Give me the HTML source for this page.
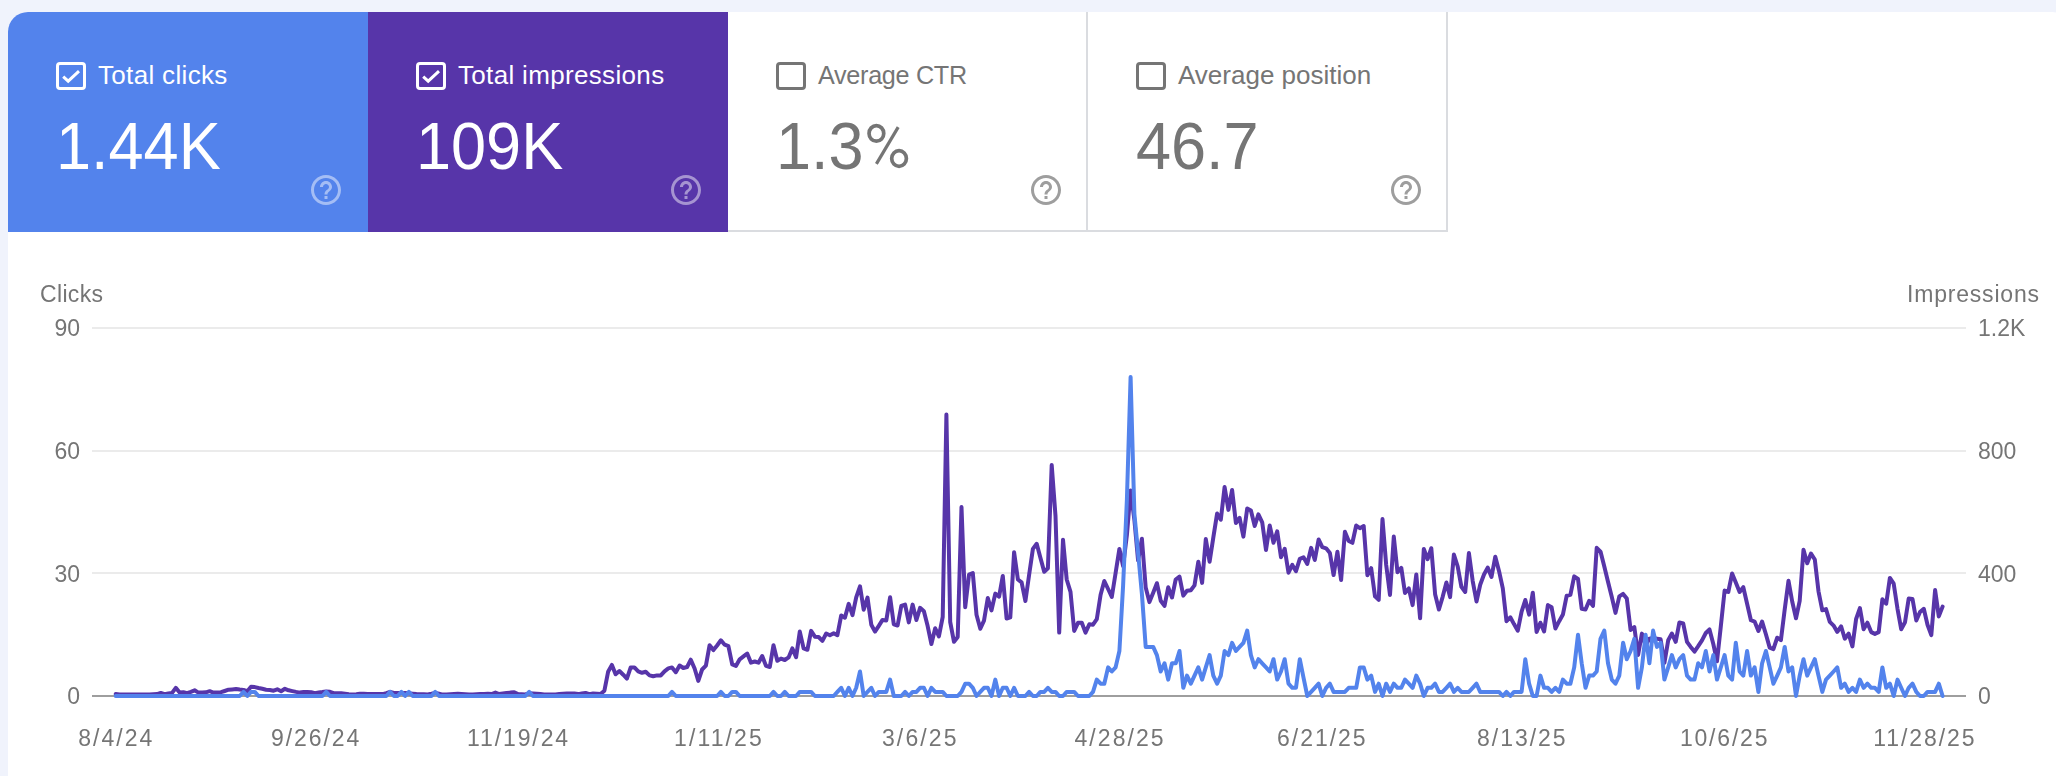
<!DOCTYPE html>
<html>
<head>
<meta charset="utf-8">
<title>Performance</title>
<style>
html,body{margin:0;padding:0;}
body{width:2056px;height:776px;overflow:hidden;background:#f0f3fc;font-family:"Liberation Sans",sans-serif;position:relative;}
#card{position:absolute;left:8px;top:12px;width:2064px;height:800px;background:#fff;border-radius:20px 20px 0 0;overflow:hidden;}
.tile{position:absolute;top:0;height:220px;width:360px;box-sizing:border-box;}
.t1{left:0;background:#5383ec;color:#fff;}
.t2{left:360px;background:#5735a9;color:#fff;}
.t3{left:720px;background:#fff;color:#757575;border-right:2px solid #dadce0;border-bottom:2px solid #dadce0;}
.t4{left:1080px;background:#fff;color:#757575;border-right:2px solid #dadce0;border-bottom:2px solid #dadce0;}
.cb{position:absolute;left:48px;top:50px;width:30px;height:28px;box-sizing:border-box;border:3px solid #fff;border-radius:4px;}
.t3 .cb,.t4 .cb{border-color:#757575;}
.cb svg{position:absolute;left:0;top:0;}
.lbl{position:absolute;left:90px;top:46px;font-size:26px;line-height:34px;letter-spacing:0.33px;white-space:nowrap;transform-origin:0 50%;}
.val{position:absolute;left:48px;top:96px;font-size:66px;line-height:76px;transform:scaleX(0.955);white-space:nowrap;transform-origin:0 50%;}
.help{position:absolute;left:300px;top:160px;width:36px;height:36px;}
#chart{position:absolute;left:0;top:0;will-change:transform;}
.ax{font-size:23px;fill:#757575;font-family:"Liberation Sans",sans-serif;}
</style>
</head>
<body>
<div id="card">
  <div class="tile t1">
    <div class="cb"><svg width="24" height="22" viewBox="0 0 24 22"><path d="M4.2 11.6 L9.2 16.1 L20 6.2" fill="none" stroke="#fff" stroke-width="3"/></svg></div>
    <div class="lbl">Total clicks</div>
    <div class="val">1.44K</div>
    <svg class="help" viewBox="0 0 24 24"><path d="M11 18h2v-2h-2v2zm1-16C6.48 2 2 6.48 2 12s4.48 10 10 10 10-4.48 10-10S17.52 2 12 2zm0 18c-4.41 0-8-3.59-8-8s3.59-8 8-8 8 3.59 8 8-3.59 8-8 8zm0-14c-2.21 0-4 1.79-4 4h2c0-1.1.9-2 2-2s2 .9 2 2c0 2-3 1.75-3 5h2c0-2.25 3-2.5 3-5 0-2.21-1.79-4-4-4z" fill="#fff" fill-opacity="0.47"/></svg>
  </div>
  <div class="tile t2">
    <div class="cb"><svg width="24" height="22" viewBox="0 0 24 22"><path d="M4.2 11.6 L9.2 16.1 L20 6.2" fill="none" stroke="#fff" stroke-width="3"/></svg></div>
    <div class="lbl">Total impressions</div>
    <div class="val">109K</div>
    <svg class="help" viewBox="0 0 24 24"><path d="M11 18h2v-2h-2v2zm1-16C6.48 2 2 6.48 2 12s4.48 10 10 10 10-4.48 10-10S17.52 2 12 2zm0 18c-4.41 0-8-3.59-8-8s3.59-8 8-8 8 3.59 8 8-3.59 8-8 8zm0-14c-2.21 0-4 1.79-4 4h2c0-1.1.9-2 2-2s2 .9 2 2c0 2-3 1.75-3 5h2c0-2.25 3-2.5 3-5 0-2.21-1.79-4-4-4z" fill="#fff" fill-opacity="0.47"/></svg>
  </div>
  <div class="tile t3">
    <div class="cb"></div>
    <div class="lbl" style="letter-spacing:-0.3px;font-size:25.2px">Average CTR</div>
    <div class="val">1.3</div>
    <svg style="position:absolute;left:138px;top:110px" width="44" height="48" viewBox="0 0 44 48"><g fill="none" stroke="#757575"><ellipse cx="10.4" cy="11.4" rx="7.35" ry="7.8" stroke-width="3.7"/><ellipse cx="33.05" cy="36.5" rx="7.35" ry="7.8" stroke-width="3.7"/><line x1="32.2" y1="5.1" x2="10.4" y2="41.9" stroke-width="3.2"/></g></svg>
    <svg class="help" viewBox="0 0 24 24"><path d="M11 18h2v-2h-2v2zm1-16C6.48 2 2 6.48 2 12s4.48 10 10 10 10-4.48 10-10S17.52 2 12 2zm0 18c-4.41 0-8-3.59-8-8s3.59-8 8-8 8 3.59 8 8-3.59 8-8 8zm0-14c-2.21 0-4 1.79-4 4h2c0-1.1.9-2 2-2s2 .9 2 2c0 2-3 1.75-3 5h2c0-2.25 3-2.5 3-5 0-2.21-1.79-4-4-4z" fill="#9e9e9e"/></svg>
  </div>
  <div class="tile t4">
    <div class="cb"></div>
    <div class="lbl" style="letter-spacing:0">Average position</div>
    <div class="val">46.7</div>
    <svg class="help" viewBox="0 0 24 24"><path d="M11 18h2v-2h-2v2zm1-16C6.48 2 2 6.48 2 12s4.48 10 10 10 10-4.48 10-10S17.52 2 12 2zm0 18c-4.41 0-8-3.59-8-8s3.59-8 8-8 8 3.59 8 8-3.59 8-8 8zm0-14c-2.21 0-4 1.79-4 4h2c0-1.1.9-2 2-2s2 .9 2 2c0 2-3 1.75-3 5h2c0-2.25 3-2.5 3-5 0-2.21-1.79-4-4-4z" fill="#9e9e9e"/></svg>
  </div>
</div>
<svg id="chart" width="2056" height="776" viewBox="0 0 2056 776">
  <g stroke="#ebebeb" stroke-width="2">
    <line x1="92" y1="328" x2="1966" y2="328"/>
    <line x1="92" y1="451" x2="1966" y2="451"/>
    <line x1="92" y1="573" x2="1966" y2="573"/>
  </g>
  <line x1="92" y1="696" x2="1966" y2="696" stroke="#9e9e9e" stroke-width="2"/>
  <g class="ax">
    <text x="40" y="302" textLength="63" lengthAdjust="spacing">Clicks</text>
    <text x="1907" y="302" textLength="132" lengthAdjust="spacing">Impressions</text>
    <text x="80" y="336" text-anchor="end">90</text>
    <text x="80" y="459" text-anchor="end">60</text>
    <text x="80" y="582" text-anchor="end">30</text>
    <text x="80" y="704" text-anchor="end">0</text>
    <text x="1978" y="336">1.2K</text>
    <text x="1978" y="459">800</text>
    <text x="1978" y="582">400</text>
    <text x="1978" y="704">0</text>
    <text x="78.3" y="746" textLength="74.0" lengthAdjust="spacing">8/4/24</text>
    <text x="270.9" y="746" textLength="88.4" lengthAdjust="spacing">9/26/24</text>
    <text x="467.1" y="746" textLength="101.0" lengthAdjust="spacing">11/19/24</text>
    <text x="674.1" y="746" textLength="87.6" lengthAdjust="spacing">1/11/25</text>
    <text x="881.9" y="746" textLength="74.7" lengthAdjust="spacing">3/6/25</text>
    <text x="1074.5" y="746" textLength="89.1" lengthAdjust="spacing">4/28/25</text>
    <text x="1277.1" y="746" textLength="88.4" lengthAdjust="spacing">6/21/25</text>
    <text x="1477.1" y="746" textLength="88.4" lengthAdjust="spacing">8/13/25</text>
    <text x="1679.9" y="746" textLength="87.6" lengthAdjust="spacing">10/6/25</text>
    <text x="1873.2" y="746" textLength="101.3" lengthAdjust="spacing">11/28/25</text>
  </g>
  <polyline id="imp" fill="none" stroke="#5735a9" stroke-width="4" stroke-linejoin="round" stroke-linecap="round" points="115.7,694.1 119.5,694.6 123.2,694.6 127.0,694.6 130.7,694.5 134.5,694.6 138.3,694.6 142.0,694.6 145.8,694.6 149.5,694.5 153.3,694.3 157.0,694.1 160.8,692.9 164.6,694.1 168.3,693.5 172.1,692.9 175.8,687.8 179.6,692.6 183.4,692.2 187.1,693.2 190.9,691.8 194.6,690.3 198.4,692.6 202.2,692.5 205.9,692.3 209.7,691.2 213.4,692.6 217.2,692.4 221.0,692.2 224.7,691.0 228.5,689.7 232.2,689.4 236.0,689.1 239.7,689.6 243.5,690.0 247.3,691.2 251.0,686.8 254.8,687.1 258.5,688.0 262.3,688.8 266.1,689.7 269.8,690.0 273.6,690.7 277.3,689.3 281.1,691.2 284.9,688.8 288.6,690.3 292.4,691.1 296.1,691.9 299.9,692.6 303.6,692.1 307.4,692.1 311.2,692.2 314.9,693.2 318.7,692.6 322.4,692.1 326.2,691.5 330.0,691.8 333.7,693.2 337.5,693.2 341.2,693.2 345.0,693.7 348.8,694.2 352.5,694.6 356.3,694.2 360.0,693.7 363.8,693.8 367.6,694.0 371.3,694.0 375.1,694.0 378.8,694.1 382.6,694.1 386.3,693.2 390.1,691.8 393.9,692.9 397.6,692.9 401.4,692.9 405.1,692.9 408.9,693.3 412.7,693.7 416.4,694.1 420.2,694.2 423.9,694.3 427.7,694.4 431.5,693.7 435.2,692.9 439.0,693.8 442.7,694.6 446.5,694.5 450.3,694.2 454.0,694.0 457.8,693.8 461.5,694.0 465.3,694.2 469.0,694.4 472.8,694.5 476.6,694.3 480.3,694.1 484.1,693.9 487.8,693.7 491.6,694.1 495.4,692.6 499.1,694.1 502.9,693.5 506.6,692.9 510.4,692.6 514.2,692.2 517.9,694.1 521.7,694.2 525.4,694.4 529.2,693.2 532.9,693.5 536.7,693.8 540.5,694.1 544.2,694.4 548.0,694.4 551.7,694.4 555.5,694.4 559.3,694.0 563.0,693.7 566.8,693.6 570.5,693.6 574.3,693.5 578.1,694.1 581.8,693.5 585.6,692.9 589.3,694.1 593.1,693.4 596.9,693.7 600.6,694.1 604.4,690.7 608.1,671.8 611.9,664.9 615.6,674.3 619.4,671.0 623.2,674.7 626.9,678.6 630.7,667.4 634.4,667.4 638.2,671.3 642.0,672.8 645.7,671.8 649.5,675.4 653.2,676.2 657.0,675.4 660.8,675.4 664.5,671.3 668.3,668.4 672.0,667.4 675.8,672.2 679.6,665.5 683.3,668.0 687.1,667.0 690.8,659.7 694.6,668.5 698.3,680.9 702.1,669.5 705.9,665.6 709.6,645.2 713.4,650.1 717.1,645.5 720.9,640.3 724.7,644.7 728.4,646.2 732.2,664.4 735.9,665.9 739.7,659.3 743.5,656.4 747.2,653.5 751.0,662.7 754.7,661.5 758.5,662.7 762.2,656.0 766.0,665.9 769.8,667.0 773.5,645.2 777.3,660.8 781.0,658.6 784.8,660.0 788.6,657.4 792.3,648.4 796.1,657.1 799.8,631.6 803.6,648.4 807.4,649.8 811.1,630.9 814.9,636.7 818.6,637.0 822.4,640.8 826.2,633.5 829.9,635.2 833.7,633.2 837.4,635.2 841.2,615.5 844.9,617.7 848.7,603.9 852.5,615.1 856.2,597.3 860.0,586.3 863.7,609.7 867.5,597.6 871.3,624.7 875.0,631.6 878.8,625.8 882.5,619.9 886.3,620.4 890.1,597.3 893.8,624.3 897.6,625.5 901.3,606.0 905.1,604.6 908.8,622.4 912.6,604.6 916.4,620.0 920.1,607.8 923.9,611.2 927.6,625.8 931.4,644.0 935.2,628.2 938.9,636.4 942.7,617.0 946.4,414.5 950.2,622.0 954.0,641.8 957.7,637.0 961.5,507.0 965.2,607.2 969.0,574.7 972.8,573.0 976.5,614.8 980.3,628.7 984.0,620.6 987.8,598.0 991.5,610.4 995.3,593.6 999.1,596.6 1002.8,575.9 1006.6,618.5 1010.3,617.3 1014.1,552.2 1017.9,579.5 1021.6,582.4 1025.4,601.0 1029.1,575.0 1032.9,548.9 1036.7,543.8 1040.4,557.8 1044.2,571.8 1047.9,568.3 1051.7,465.0 1055.5,516.0 1059.2,632.6 1063.0,539.7 1066.7,579.5 1070.5,591.9 1074.2,630.9 1078.0,622.8 1081.8,622.8 1085.5,632.6 1089.3,624.3 1093.0,624.7 1096.8,619.2 1100.6,594.8 1104.3,581.0 1108.1,589.0 1111.8,597.0 1115.6,573.0 1119.4,548.9 1123.1,566.0 1126.9,535.0 1130.6,490.5 1134.4,520.0 1138.1,560.5 1141.9,538.7 1145.7,587.6 1149.4,602.1 1153.2,592.7 1156.9,583.2 1160.7,600.7 1164.5,605.8 1168.2,587.3 1172.0,597.5 1175.7,579.5 1179.5,576.6 1183.3,595.6 1187.0,590.8 1190.8,590.2 1194.5,585.4 1198.3,561.7 1202.1,582.9 1205.8,539.1 1209.6,561.7 1213.3,537.6 1217.1,513.6 1220.8,519.7 1224.6,487.0 1228.4,509.9 1232.1,489.9 1235.9,523.0 1239.6,517.9 1243.4,536.6 1247.2,508.5 1250.9,510.6 1254.7,526.0 1258.4,514.3 1262.2,522.3 1266.0,550.0 1269.7,525.5 1273.5,542.7 1277.2,531.4 1281.0,557.3 1284.7,548.9 1288.5,572.7 1292.3,564.9 1296.0,571.2 1299.8,558.8 1303.5,557.3 1307.3,563.9 1311.1,547.9 1314.8,560.0 1318.6,539.5 1322.3,547.1 1326.1,548.3 1329.9,553.0 1333.6,575.1 1337.4,551.8 1341.1,580.0 1344.9,531.8 1348.7,541.0 1352.4,542.8 1356.2,525.5 1359.9,528.2 1363.7,526.0 1367.4,575.2 1371.2,568.2 1375.0,596.4 1378.7,599.8 1382.5,519.1 1386.2,565.0 1390.0,594.9 1393.8,536.6 1397.5,572.3 1401.3,567.9 1405.0,593.0 1408.8,588.4 1412.6,605.1 1416.3,574.5 1420.1,618.3 1423.8,549.0 1427.6,559.2 1431.3,548.2 1435.1,594.2 1438.9,609.5 1442.6,597.1 1446.4,582.5 1450.1,597.1 1453.9,554.5 1457.7,566.5 1461.4,586.9 1465.2,592.0 1468.9,553.1 1472.7,581.1 1476.5,601.5 1480.2,584.7 1484.0,574.5 1487.7,567.6 1491.5,577.0 1495.3,556.7 1499.0,570.9 1502.8,588.4 1506.5,621.2 1510.3,617.3 1514.0,624.1 1517.8,630.7 1521.6,611.7 1525.3,600.0 1529.1,614.6 1532.8,592.7 1536.6,632.1 1540.4,622.7 1544.1,631.4 1547.9,605.1 1551.6,607.3 1555.4,628.5 1559.2,621.2 1562.9,614.6 1566.7,595.7 1570.4,594.9 1574.2,576.4 1578.0,578.9 1581.7,608.8 1585.5,609.5 1589.2,600.8 1593.0,605.9 1596.7,547.8 1600.5,551.6 1604.3,566.5 1608.0,581.8 1611.8,597.1 1615.5,612.9 1619.3,596.4 1623.1,593.9 1626.8,598.6 1630.6,630.0 1634.3,627.0 1638.1,654.9 1641.9,633.6 1645.6,645.3 1649.4,638.7 1653.1,638.0 1656.9,638.7 1660.6,639.3 1664.4,662.9 1668.2,640.3 1671.9,633.5 1675.7,641.8 1679.4,622.4 1683.2,623.5 1687.0,641.8 1690.7,646.9 1694.5,651.6 1698.2,646.2 1702.0,640.3 1705.8,633.0 1709.5,629.4 1713.3,644.0 1717.0,661.2 1720.8,626.5 1724.6,590.6 1728.3,592.0 1732.1,573.5 1735.8,582.5 1739.6,592.0 1743.3,587.2 1747.1,603.7 1750.9,620.2 1754.6,621.6 1758.4,631.0 1762.1,621.6 1765.9,634.3 1769.7,647.6 1773.4,649.1 1777.2,637.7 1780.9,640.2 1784.7,609.5 1788.5,580.8 1792.2,601.5 1796.0,618.3 1799.7,600.8 1803.5,549.7 1807.2,563.3 1811.0,553.6 1814.8,559.5 1818.5,591.3 1822.3,610.3 1826.0,609.1 1829.8,621.9 1833.6,625.6 1837.3,631.9 1841.1,626.3 1844.8,638.7 1848.6,633.6 1852.4,646.4 1856.1,619.0 1859.9,608.1 1863.6,629.2 1867.4,622.7 1871.2,632.1 1874.9,633.9 1878.7,632.1 1882.4,599.3 1886.2,603.7 1889.9,577.9 1893.7,583.7 1897.5,608.8 1901.2,629.2 1905.0,622.2 1908.7,598.6 1912.5,599.0 1916.3,620.5 1920.0,612.0 1923.8,608.8 1927.5,624.8 1931.3,635.1 1935.1,590.1 1938.8,616.4 1942.6,606.6"/>
  <polyline id="clk" fill="none" stroke="#5383ec" stroke-width="4" stroke-linejoin="round" stroke-linecap="round" points="115.7,696.0 119.5,696.0 123.2,696.0 127.0,696.0 130.7,696.0 134.5,696.0 138.3,696.0 142.0,696.0 145.8,696.0 149.5,696.0 153.3,696.0 157.0,696.0 160.8,696.0 164.6,696.0 168.3,696.0 172.1,696.0 175.8,696.0 179.6,696.0 183.4,696.0 187.1,696.0 190.9,696.0 194.6,696.0 198.4,696.0 202.2,696.0 205.9,696.0 209.7,696.0 213.4,696.0 217.2,696.0 221.0,696.0 224.7,696.0 228.5,696.0 232.2,696.0 236.0,696.0 239.7,696.0 243.5,691.9 247.3,696.0 251.0,691.9 254.8,691.9 258.5,696.0 262.3,696.0 266.1,696.0 269.8,696.0 273.6,696.0 277.3,696.0 281.1,696.0 284.9,696.0 288.6,696.0 292.4,696.0 296.1,696.0 299.9,696.0 303.6,696.0 307.4,696.0 311.2,696.0 314.9,696.0 318.7,696.0 322.4,696.0 326.2,691.9 330.0,696.0 333.7,696.0 337.5,696.0 341.2,696.0 345.0,696.0 348.8,696.0 352.5,696.0 356.3,696.0 360.0,696.0 363.8,696.0 367.6,696.0 371.3,696.0 375.1,696.0 378.8,696.0 382.6,696.0 386.3,696.0 390.1,691.9 393.9,696.0 397.6,696.0 401.4,691.9 405.1,696.0 408.9,691.9 412.7,696.0 416.4,696.0 420.2,696.0 423.9,696.0 427.7,696.0 431.5,696.0 435.2,691.9 439.0,696.0 442.7,696.0 446.5,696.0 450.3,696.0 454.0,696.0 457.8,696.0 461.5,696.0 465.3,696.0 469.0,696.0 472.8,696.0 476.6,696.0 480.3,696.0 484.1,696.0 487.8,696.0 491.6,696.0 495.4,696.0 499.1,696.0 502.9,696.0 506.6,696.0 510.4,696.0 514.2,696.0 517.9,696.0 521.7,696.0 525.4,696.0 529.2,691.9 532.9,696.0 536.7,696.0 540.5,696.0 544.2,696.0 548.0,696.0 551.7,696.0 555.5,696.0 559.3,696.0 563.0,696.0 566.8,696.0 570.5,696.0 574.3,696.0 578.1,696.0 581.8,696.0 585.6,696.0 589.3,696.0 593.1,696.0 596.9,696.0 600.6,696.0 604.4,696.0 608.1,696.0 611.9,696.0 615.6,696.0 619.4,696.0 623.2,696.0 626.9,696.0 630.7,696.0 634.4,696.0 638.2,696.0 642.0,696.0 645.7,696.0 649.5,696.0 653.2,696.0 657.0,696.0 660.8,696.0 664.5,696.0 668.3,696.0 672.0,691.9 675.8,696.0 679.6,696.0 683.3,696.0 687.1,696.0 690.8,696.0 694.6,696.0 698.3,696.0 702.1,696.0 705.9,696.0 709.6,696.0 713.4,696.0 717.1,696.0 720.9,691.9 724.7,696.0 728.4,696.0 732.2,691.9 735.9,691.9 739.7,696.0 743.5,696.0 747.2,696.0 751.0,696.0 754.7,696.0 758.5,696.0 762.2,696.0 766.0,696.0 769.8,696.0 773.5,691.9 777.3,696.0 781.0,696.0 784.8,691.9 788.6,696.0 792.3,696.0 796.1,696.0 799.8,691.9 803.6,691.9 807.4,691.9 811.1,691.9 814.9,696.0 818.6,696.0 822.4,696.0 826.2,696.0 829.9,696.0 833.7,696.0 837.4,691.9 841.2,687.8 844.9,696.0 848.7,687.8 852.5,696.0 856.2,687.8 860.0,671.5 863.7,696.0 867.5,691.9 871.3,687.8 875.0,696.0 878.8,691.9 882.5,691.9 886.3,691.9 890.1,679.6 893.8,696.0 897.6,696.0 901.3,696.0 905.1,691.9 908.8,696.0 912.6,691.9 916.4,691.9 920.1,687.8 923.9,687.8 927.6,696.0 931.4,687.8 935.2,691.9 938.9,691.9 942.7,691.9 946.4,696.0 950.2,696.0 954.0,696.0 957.7,696.0 961.5,691.9 965.2,683.7 969.0,683.7 972.8,687.8 976.5,696.0 980.3,691.9 984.0,687.8 987.8,687.8 991.5,696.0 995.3,679.6 999.1,696.0 1002.8,687.8 1006.6,687.8 1010.3,696.0 1014.1,687.8 1017.9,696.0 1021.6,696.0 1025.4,696.0 1029.1,691.9 1032.9,696.0 1036.7,696.0 1040.4,691.9 1044.2,691.9 1047.9,687.8 1051.7,691.9 1055.5,691.9 1059.2,696.0 1063.0,696.0 1066.7,691.9 1070.5,691.9 1074.2,691.9 1078.0,696.0 1081.8,696.0 1085.5,696.0 1089.3,696.0 1093.0,691.9 1096.8,679.6 1100.6,683.7 1104.3,683.7 1108.1,667.4 1111.8,671.5 1115.6,667.4 1119.4,651.0 1123.1,585.6 1126.9,499.7 1130.6,377.1 1134.4,514.0 1138.1,552.9 1141.9,593.8 1145.7,646.9 1149.4,646.9 1153.2,646.9 1156.9,655.1 1160.7,671.5 1164.5,663.3 1168.2,679.6 1172.0,663.3 1175.7,663.3 1179.5,651.0 1183.3,687.8 1187.0,675.6 1190.8,683.7 1194.5,675.6 1198.3,667.4 1202.1,679.6 1205.8,667.4 1209.6,655.1 1213.3,675.6 1217.1,683.7 1220.8,675.6 1224.6,651.0 1228.4,655.1 1232.1,642.8 1235.9,651.0 1239.6,646.9 1243.4,642.8 1247.2,630.6 1250.9,655.1 1254.7,667.4 1258.4,659.2 1262.2,663.3 1266.0,667.4 1269.7,671.5 1273.5,659.2 1277.2,679.6 1281.0,671.5 1284.7,659.2 1288.5,683.7 1292.3,687.8 1296.0,687.8 1299.8,659.2 1303.5,677.6 1307.3,696.0 1311.1,691.9 1314.8,687.8 1318.6,683.7 1322.3,696.0 1326.1,687.8 1329.9,683.7 1333.6,691.9 1337.4,691.9 1341.1,691.9 1344.9,691.9 1348.7,687.8 1352.4,687.8 1356.2,687.8 1359.9,667.4 1363.7,667.4 1367.4,679.6 1371.2,675.6 1375.0,691.9 1378.7,683.7 1382.5,696.0 1386.2,683.7 1390.0,691.9 1393.8,683.7 1397.5,687.8 1401.3,687.8 1405.0,679.6 1408.8,683.7 1412.6,687.8 1416.3,675.6 1420.1,683.7 1423.8,696.0 1427.6,687.8 1431.3,687.8 1435.1,683.7 1438.9,691.9 1442.6,691.9 1446.4,687.8 1450.1,683.7 1453.9,691.9 1457.7,687.8 1461.4,691.9 1465.2,691.9 1468.9,691.9 1472.7,687.8 1476.5,683.7 1480.2,691.9 1484.0,691.9 1487.7,691.9 1491.5,691.9 1495.3,691.9 1499.0,691.9 1502.8,696.0 1506.5,691.9 1510.3,696.0 1514.0,691.9 1517.8,691.9 1521.6,691.9 1525.3,659.2 1529.1,683.7 1532.8,696.0 1536.6,696.0 1540.4,675.6 1544.1,687.8 1547.9,687.8 1551.6,691.9 1555.4,687.8 1559.2,691.9 1562.9,679.6 1566.7,683.7 1570.4,683.7 1574.2,667.4 1578.0,634.7 1581.7,663.3 1585.5,687.8 1589.2,675.6 1593.0,675.6 1596.7,671.5 1600.5,638.8 1604.3,630.6 1608.0,663.3 1611.8,679.6 1615.5,683.7 1619.3,675.6 1623.1,642.8 1626.8,659.2 1630.6,651.0 1634.3,638.8 1638.1,687.8 1641.9,667.4 1645.6,634.7 1649.4,663.3 1653.1,630.6 1656.9,646.9 1660.6,642.8 1664.4,679.6 1668.2,667.4 1671.9,655.1 1675.7,667.4 1679.4,659.2 1683.2,655.1 1687.0,675.6 1690.7,679.6 1694.5,679.6 1698.2,663.3 1702.0,667.4 1705.8,651.0 1709.5,671.5 1713.3,655.1 1717.0,679.6 1720.8,667.4 1724.6,655.1 1728.3,675.6 1732.1,679.6 1735.8,642.8 1739.6,671.5 1743.3,675.6 1747.1,651.0 1750.9,675.6 1754.6,667.4 1758.4,691.9 1762.1,663.3 1765.9,651.0 1769.7,667.4 1773.4,683.7 1777.2,675.6 1780.9,667.4 1784.7,646.9 1788.5,671.5 1792.2,667.4 1796.0,696.0 1799.7,675.6 1803.5,659.2 1807.2,675.6 1811.0,667.4 1814.8,659.2 1818.5,675.6 1822.3,691.9 1826.0,679.6 1829.8,675.6 1833.6,671.5 1837.3,667.4 1841.1,687.8 1844.8,683.7 1848.6,691.9 1852.4,687.8 1856.1,691.9 1859.9,679.6 1863.6,687.8 1867.4,683.7 1871.2,687.8 1874.9,687.8 1878.7,691.9 1882.4,667.4 1886.2,687.8 1889.9,683.7 1893.7,696.0 1897.5,679.6 1901.2,687.8 1905.0,696.0 1908.7,687.8 1912.5,683.7 1916.3,691.9 1920.0,696.0 1923.8,696.0 1927.5,691.9 1931.3,691.9 1935.1,691.9 1938.8,683.7 1942.6,696.0"/>
</svg>
</body>
</html>
